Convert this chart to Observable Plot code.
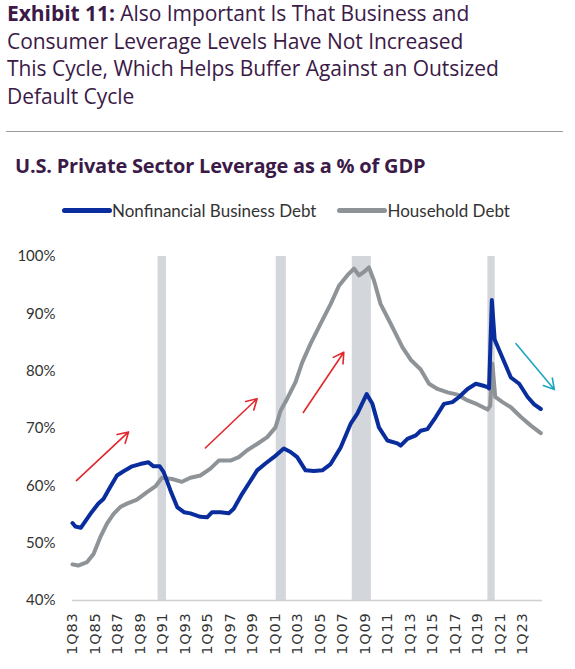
<!DOCTYPE html>
<html>
<head>
<meta charset="utf-8">
<script src="https://cdn.jsdelivr.net/npm/d3@7"></script>
<script src="https://cdn.jsdelivr.net/npm/@observablehq/plot@0.6"></script>
<style>
  html, body { margin: 0; padding: 0; background: #fff; }
  body { width: 575px; height: 669px; overflow: hidden; font-family: Lato, "Open Sans", sans-serif; position: relative; }
  #title { position: absolute; left: 7px; top: 0px; width: 570px; font-family: "Open Sans", sans-serif; font-size: 21px; line-height: 27.5px; color: #3b1a47; letter-spacing: -0.05px; }
  #title b { font-weight: 700; }
  #rule { position: absolute; left: 6px; top: 131px; width: 557px; height: 0; border-top: 1px solid #9a9a9a; }
  #sub { position: absolute; left: 15px; top: 152px; font-family: "Open Sans", sans-serif; font-size: 20px; font-weight: 700; color: #3b1a47; letter-spacing: -0.2px; }
  #legend { position: absolute; left: 62px; top: 200px; font-size: 17px; color: #333; display: flex; align-items: center; }
  .sw { display: inline-block; width: 50px; height: 5px; border-radius: 3px; margin-right: 0px; }
  .item { display: flex; align-items: center; margin-right: 21px; }
  #chart { position: absolute; left: 0; top: 235px; }
</style>
</head>
<body>
<div id="title"><b>Exhibit 11:</b> Also Important Is That Business and<br>Consumer Leverage Levels Have Not Increased<br>This Cycle, Which Helps Buffer Against an Outsized<br>Default Cycle</div>
<div id="rule"></div>
<div id="sub">U.S. Private Sector Leverage as a % of GDP</div>
<div id="legend"></div>
<div id="chart"></div>
<script>
const seriesNames = ["Nonfinancial Business Debt", "Household Debt"];
const seriesColors = ["#0a2d9e", "#8e9398"];

const bizYears = [1983.0,1983.25,1983.75,1984.1,1984.7,1985.3,1985.75,1986.35,1986.95,1987.5,1988.3,1989.0,1989.75,1990.2,1990.75,1991.1,1991.7,1992.3,1992.9,1993.47,1994.36,1994.96,1995.4,1996.14,1996.88,1997.32,1998.07,1998.66,1999.4,2000.14,2000.88,2001.77,2002.37,2002.96,2003.7,2004.44,2005.19,2005.93,2006.82,2007.7,2008.3,2009.13,2009.64,2010.22,2010.97,2011.86,2012.15,2012.75,2013.5,2013.93,2014.53,2015.27,2016.0,2016.75,2017.34,2018.09,2018.83,2019.42,2019.87,2020.0,2020.25,2020.5,2021.05,2021.94,2022.68,2023.43,2024.01,2024.6];
const bizValues = [53.5,52.9,52.7,53.7,55.4,56.9,57.7,59.8,61.8,62.5,63.4,63.8,64.1,63.4,63.4,62.4,59.2,56.3,55.4,55.2,54.6,54.5,55.4,55.4,55.2,56.0,58.6,60.4,62.7,63.9,65.0,66.5,65.9,65.0,62.7,62.6,62.7,63.8,66.7,70.8,72.6,76.0,74.3,70.2,67.9,67.4,67.0,68.2,68.8,69.6,69.9,72.0,74.3,74.6,75.5,76.9,77.8,77.5,77.2,77.0,92.4,85.5,83.0,78.9,77.8,75.5,74.2,73.4];

const hhYears = [1983.0,1983.5,1984.3,1984.87,1985.46,1986.06,1986.65,1987.24,1987.84,1988.73,1989.62,1990.36,1990.95,1991.84,1992.73,1993.47,1994.36,1995.25,1995.99,1997.03,1997.77,1998.52,1999.4,2000.3,2001.03,2001.48,2002.07,2002.81,2003.4,2004.15,2005.04,2005.93,2006.67,2007.41,2008.0,2008.45,2008.89,2009.33,2009.78,2010.37,2010.97,2011.56,2012.3,2013.04,2013.93,2014.67,2015.42,2016.31,2017.2,2018.09,2018.98,2019.87,2020.1,2020.3,2020.55,2021.2,2021.94,2022.83,2023.72,2024.6];
const hhValues = [46.3,46.1,46.7,48.1,51.0,53.4,55.1,56.3,56.9,57.6,58.9,59.9,61.4,61.2,60.7,61.4,61.8,63.0,64.4,64.4,65.0,66.2,67.3,68.5,70.2,73.1,75.2,78.1,81.5,84.8,88.3,91.7,94.9,96.7,97.9,96.7,97.3,98.1,95.8,91.7,89.4,87.1,84.2,82.0,80.3,77.8,76.9,76.3,75.9,74.9,74.2,73.3,74.0,81.3,75.5,74.6,73.7,72.0,70.5,69.2];

const recessionStart = [1990.6, 2001.1, 2007.85, 2019.9];
const recessionEnd   = [1991.35, 2002.0, 2009.55, 2020.55];

const tickYears = [1983,1985,1987,1989,1991,1993,1995,1997,1999,2001,2003,2005,2007,2009,2011,2013,2015,2017,2019,2021,2023];
const tickLabels = ["1Q83","1Q85","1Q87","1Q89","1Q91","1Q93","1Q95","1Q97","1Q99","1Q01","1Q03","1Q05","1Q07","1Q09","1Q11","1Q13","1Q15","1Q17","1Q19","1Q21","1Q23"];
const yTicks = [40,50,60,70,80,90,100];

// annotation arrows (data coordinates)
const arrowX1 = [1983.35, 1994.8, 2003.5, 2022.4];
const arrowY1 = [60.9, 66.6, 72.8, 84.8];
const arrowX2 = [1987.98, 1999.4, 2007.1, 2025.8];
const arrowY2 = [69.4, 75.2, 83.3, 76.8];
const arrowColors = ["#e2262c", "#e2262c", "#e2262c", "#1ba6c2"];

// legend
const legend = document.getElementById("legend");
seriesNames.forEach((n, i) => {
  const it = document.createElement("span");
  it.className = "item";
  it.innerHTML = `<span class="sw" style="background:${seriesColors[i]}"></span><span>${n}</span>`;
  legend.appendChild(it);
});

const biz = bizYears.map((x, i) => ({x, y: bizValues[i]}));
const hh = hhYears.map((x, i) => ({x, y: hhValues[i]}));
const rec = recessionStart.map((s, i) => ({x1: s, x2: recessionEnd[i]}));
const arrows = arrowX1.map((x1, i) => ({x1, y1: arrowY1[i], x2: arrowX2[i], y2: arrowY2[i], c: arrowColors[i]}));
const labelOf = new Map(tickYears.map((t, i) => [t, tickLabels[i]]));

const chart = Plot.plot({
  width: 575,
  height: 430,
  marginTop: 21,
  marginBottom: 65,
  marginLeft: 72,
  marginRight: 33,
  style: {fontFamily: "Lato, 'Open Sans', sans-serif", fontSize: "15px", color: "#333", background: "#fff"},
  x: {domain: [1983, 2024.75]},
  y: {domain: [40, 100]},
  marks: [
    Plot.rect(rec, {x1: "x1", x2: "x2", y1: 40, y2: 100, fill: "#d3d6da"}),
    Plot.ruleY([40], {stroke: "#cfcfcf", strokeWidth: 1.5}),
    Plot.axisY({ticks: yTicks, tickSize: 0, tickPadding: 17, tickFormat: d => d + "%", fontSize: 15, fill: "#333"}),
    Plot.axisX({ticks: tickYears, tickSize: 0, tickPadding: 12, tickRotate: -90, tickFormat: d => labelOf.get(d), fontSize: 14.5, fontFamily: "DejaVu Sans", fill: "#333"}),
    Plot.line(hh, {x: "x", y: "y", stroke: seriesColors[1], strokeWidth: 4, strokeLinejoin: "round", strokeLinecap: "round"}),
    Plot.line(biz, {x: "x", y: "y", stroke: seriesColors[0], strokeWidth: 4, strokeLinejoin: "round", strokeLinecap: "round"}),
    Plot.arrow(arrows, {x1: "x1", y1: "y1", x2: "x2", y2: "y2", stroke: "c", strokeWidth: 1.6, headLength: 11})
  ]
});
d3.select(chart).selectAll('g[aria-label="x-axis tick label"] text').style("letter-spacing", "0.8px").style("font-family", "'DejaVu Sans'");
document.getElementById("chart").appendChild(chart);
</script>
</body>
</html>
